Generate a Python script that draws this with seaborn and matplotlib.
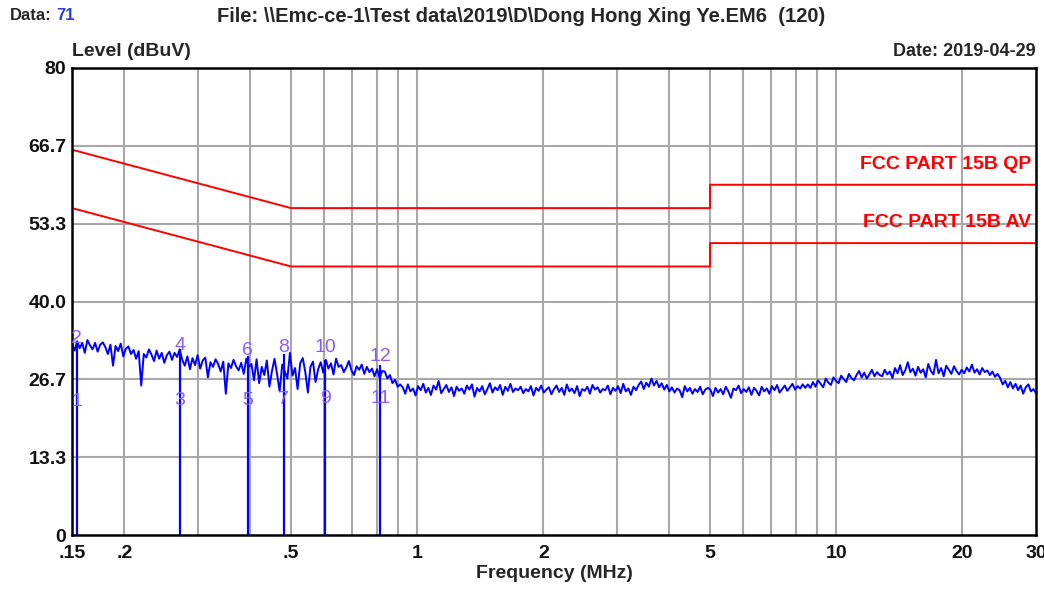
import numpy as np
import pandas as pd
import matplotlib
matplotlib.use("Agg")
import matplotlib.pyplot as plt
import matplotlib.ticker as mticker
import seaborn as sns

# measured trace levels (dBuV), sweep 0.15 - 30 MHz on a log grid
levels = [
    # .15 - .17
    32.8, 31.6, 33.2, 32.0, 32.9, 31.2, 33.4, 32.5, 31.8, 32.9, 31.4, 32.6, 33.0,
    # .17 - .27
    32.2, 31.0, 32.6, 29.0, 32.4, 31.5, 32.8, 30.6, 31.9, 32.3, 31.0, 31.7, 30.2, 31.5, 25.6,
    31.0, 30.4, 31.8, 30.9, 29.8, 31.6, 30.2, 31.2, 29.5, 30.8, 31.4, 30.0, 31.2, 30.5, 31.8,
    # .27 - .39
    30.0, 29.0, 30.6, 28.4, 30.3, 29.1, 30.8, 28.5, 29.9, 30.4, 27.0, 29.6, 28.8, 30.1,
    29.3, 28.0, 29.7, 24.2, 29.4, 28.6, 30.0, 28.9, 28.2, 29.5, 27.6, 30.2, 28.8,
    # .39 - .82
    29.3, 26.5, 30.1, 26.0, 28.8, 27.4, 29.9, 25.4, 28.1, 30.2, 27.5, 24.6, 29.2,
    28.0, 26.8, 31.2, 27.3, 28.6, 25.0, 29.4, 30.3, 27.9, 24.4, 28.8, 29.7, 26.2,
    28.4, 29.6, 27.8, 30.0, 28.5, 29.4, 27.5, 30.2, 28.8, 29.1, 27.9, 28.7, 29.8,
    28.2, 27.4, 28.9, 28.3, 29.2, 27.6, 28.8, 27.9, 28.5, 27.2, 28.4, 26.9, 28.1,
    # .82 - .9
    28.0, 26.8, 27.4, 26.0, 26.6, 25.4, 25.8,
    # .9 - 4.9
    25.3, 24.2, 25.8, 24.6, 25.1, 23.9, 25.5, 24.8, 25.9, 24.4, 25.2, 24.0, 25.6, 24.9, 26.4,
    24.3, 25.0, 25.7, 24.5, 25.3, 23.8, 25.4, 24.7, 25.1, 24.2, 25.6, 24.9, 25.8, 23.7, 25.2,
    24.6, 25.5, 24.1, 25.0, 26.0, 24.4, 25.3, 24.8, 25.7, 24.0, 25.4, 24.7, 25.9, 24.5, 25.1,
    24.8, 25.4, 24.3, 25.0, 24.6, 25.5, 23.9, 25.2, 24.7, 25.6, 24.4, 24.9, 25.3, 24.1, 25.0,
    25.6, 24.5, 25.2, 24.0, 25.8, 24.6, 25.1, 24.3, 25.5, 23.8, 25.0, 24.7, 25.4, 24.2, 25.7,
    24.9, 25.3, 24.4, 25.0, 24.8, 25.6, 24.1, 25.2, 24.7, 25.5, 24.3, 25.9, 24.6, 25.1, 24.0,
    25.4, 24.8, 25.7, 26.3, 25.0, 26.1, 25.4, 26.8, 25.6, 26.4, 25.3, 26.0, 24.9, 25.7, 24.6,
    25.3, 24.4, 25.1, 24.8, 23.6, 25.5, 24.6, 25.2, 24.2, 25.0, 24.5, 25.4, 24.1, 24.9, 25.2,
    # 4.9 - 8.9
    24.9, 23.8, 25.2, 24.4, 25.0, 24.1, 25.4, 24.6, 23.5, 25.1, 24.8, 25.6, 24.3,
    25.0, 24.5, 25.3, 24.0, 25.2, 24.7, 23.9, 25.4, 24.6, 25.1, 24.2, 25.5, 24.8,
    25.7, 24.4, 25.0, 25.6, 24.7, 25.3, 25.9, 24.9, 25.5, 25.1, 25.8, 25.2,
    # 8.9 - 13
    25.8, 25.2, 26.2, 25.4, 26.5, 25.9, 25.3, 26.8, 26.1, 25.7, 27.0, 26.4, 26.0, 27.3, 26.7,
    26.2, 27.6, 26.9, 26.5, 27.4, 28.1, 27.0, 27.8, 26.8, 27.5, 28.3, 27.2, 27.9, 27.4,
    # 13 - 25
    27.2, 28.3, 27.5, 28.0, 26.9, 28.6, 27.7, 29.1, 27.4, 28.2, 29.6, 27.9, 28.5, 27.3, 28.8,
    27.8, 28.4, 27.0, 29.3, 28.1, 27.5, 30.0, 27.7, 28.6, 27.2, 29.0, 28.3, 27.6, 28.9, 28.1,
    27.5, 28.3, 27.7, 28.7, 28.0, 29.2, 27.8, 28.4, 27.5, 28.6, 27.9, 28.2, 27.4, 28.0, 27.1,
    27.6,
    # 25 - 30
    26.9, 25.8, 26.4, 25.3, 26.2, 25.1, 25.9, 24.8, 25.6, 24.2, 25.3, 25.8, 24.6, 25.0, 24.3,
]
freqs = np.geomspace(0.15, 30, len(levels))

# limit lines
qp_freq = [0.15, 0.5, 5, 5, 30]
qp_level = [66, 56, 56, 60, 60]
av_freq = [0.15, 0.5, 5, 5, 30]
av_level = [56, 46, 46, 50, 50]

# markers
marker_freqs = [0.154, 0.271, 0.394, 0.480, 0.604, 0.816]
marker_levels = [32.8, 31.8, 30.6, 31.0, 30.0, 29.2]
peak_labels = ["2", "4", "6", "8", "10", "12"]
peak_label_y = [33.6, 32.4, 31.6, 32.2, 32.2, 30.6]
avg_labels = ["1", "3", "5", "7", "9", "11"]
avg_label_y = [22.8, 23.0, 23.0, 23.2, 23.4, 23.4]

y_ticks = [0, 13.3, 26.7, 40.0, 53.3, 66.7, 80]
y_ticklabels = ["0", "13.3", "26.7", "40.0", "53.3", "66.7", "80"]
x_ticks = [0.15, 0.2, 0.5, 1, 2, 5, 10, 20, 30]
x_ticklabels = [".15", ".2", ".5", "1", "2", "5", "10", "20", "30"]
x_grid = [0.2, 0.3, 0.4, 0.5, 0.6, 0.7, 0.8, 0.9, 1, 2, 3, 4, 5, 6, 7, 8, 9, 10, 20]

sns.set_style("white")
plt.rcParams["font.family"] = ["Liberation Sans", "DejaVu Sans"]
plt.rcParams["font.weight"] = "bold"

fig = plt.figure(figsize=(10.44, 5.89), dpi=100)
ax = fig.add_axes([72 / 1044, 1 - 535 / 589, (1036 - 72) / 1044, (535 - 68) / 589])

ax.set_xscale("log")
ax.set_xlim(0.15, 30)
ax.set_ylim(0, 80)

# grid
for g in x_grid:
    ax.axvline(g, color="#a8a8a8", lw=1.5, zorder=0)
for g in y_ticks[1:-1]:
    ax.axhline(g, color="#a8a8a8", lw=1.5, zorder=0)

trace_df = pd.DataFrame({"freq": freqs, "level": levels})
sns.lineplot(data=trace_df, x="freq", y="level", color="#0000ff", lw=1.4,
             estimator=None, sort=False, ax=ax)
sns.lineplot(x=qp_freq, y=qp_level, color="#ff0000", lw=1.4, estimator=None, sort=False, ax=ax)
sns.lineplot(x=av_freq, y=av_level, color="#ff0000", lw=1.4, estimator=None, sort=False, ax=ax)

ax.vlines(marker_freqs, 0, marker_levels, color="#0000ff", lw=1.6)

lab_col = "#8a5cf5"
for f, t, yy in zip(marker_freqs, peak_labels, peak_label_y):
    ax.text(f, yy, t, color=lab_col, fontsize=14, fontweight="normal",
            ha="center", va="center")
for f, t, yy in zip(marker_freqs, avg_labels, avg_label_y):
    ax.text(f, yy, t, color=lab_col, fontsize=14, fontweight="normal",
            ha="center", va="center")

ax.text(29.2, 62.0, "FCC PART 15B QP", color="#ff0000", fontsize=14,
        fontweight="bold", ha="right", va="bottom")
ax.text(29.2, 52.0, "FCC PART 15B AV", color="#ff0000", fontsize=14,
        fontweight="bold", ha="right", va="bottom")

ax.xaxis.set_major_locator(mticker.FixedLocator(x_ticks))
ax.xaxis.set_major_formatter(mticker.FixedFormatter(x_ticklabels))
ax.xaxis.set_minor_locator(mticker.NullLocator())
ax.set_yticks(y_ticks)
ax.set_yticklabels(y_ticklabels)
ax.tick_params(axis="both", length=0, labelsize=14, pad=4, labelcolor="#111111")
ax.tick_params(axis="x", pad=7)
for lbl in ax.get_xticklabels() + ax.get_yticklabels():
    lbl.set_fontweight("bold")

ax.set_xlabel("Frequency (MHz)", fontsize=14, fontweight="bold", labelpad=2)
ax.set_ylabel("")

for s in ax.spines.values():
    s.set_color("black")
    s.set_linewidth(1.8)

# header text
fig.text(10 / 1044, 1 - 16 / 589, "Data:", fontsize=12, fontweight="bold", va="center")
fig.text(56 / 1044, 1 - 16 / 589, "71", fontsize=12, fontweight="bold", va="center",
         color="#2a3fd0")
fig.text(521 / 1044, 1 - 16 / 589,
         "File: \\\\Emc-ce-1\\Test data\\2019\\D\\Dong Hong Xing Ye.EM6  (120)",
         fontsize=14.5, fontweight="bold", va="center", ha="center")
fig.text(72 / 1044, 1 - 52 / 589, "Level (dBuV)", fontsize=14, fontweight="bold",
         va="center")
fig.text(1036 / 1044, 1 - 52 / 589, "Date: 2019-04-29", fontsize=13, fontweight="bold",
         va="center", ha="right")

fig.savefig("out.png", dpi=100)
